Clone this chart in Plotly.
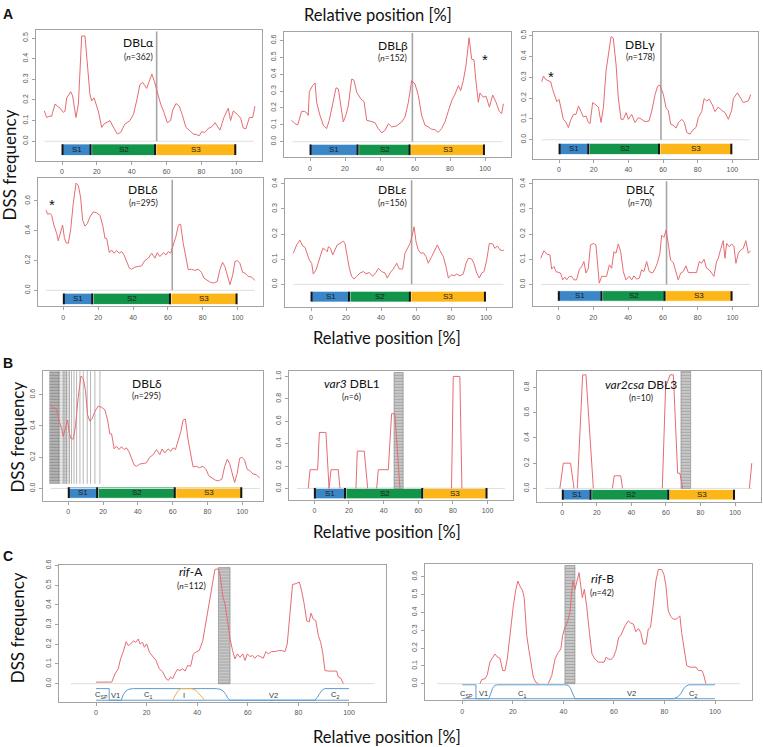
import plotly.graph_objects as go

W, H = 763, 747

# ---------------------------------------------------------------- data
x_ticks = [0, 20, 40, 60, 80, 100]

dbl_alpha = [(-10.1,0.147),(-8.8,0.115),(-6.9,0.123),(-6,0.12),(-4,0.18),(-1.1,0.16),(0.8,0.14),(1.7,0.145),
    (2.7,0.21),(5,0.24),(6.1,0.22),(8,0.115),(9.4,0.18),(11.3,0.51),(13.2,0.51),(14.5,0.37),(16,0.23),
    (17,0.195),(18.4,0.21),(20.8,0.147),(22.8,0.067),(24,0.083),(25.6,0.09),(27.5,0.1),(29.4,0.07),
    (31.7,0.035),(33.7,0.043),(36,0.083),(39,0.1),(41,0.13),(42.8,0.195),(44.7,0.275),(46.3,0.285),
    (48.6,0.256),(50,0.29),(51.6,0.325),(53,0.29),(54.7,0.24),(56.6,0.18),(58.5,0.14),(60.4,0.09),
    (62.3,0.1),(63.5,0.15),(65.4,0.183),(67.3,0.17),(69.2,0.123),(71.1,0.067),(73.4,0.051),(75.3,0.035),
    (77.2,0.032),(78.8,0.027),(80.1,0.046),(82,0.043),(83.9,0.062),(85.9,0.07),(87.8,0.09),(89.1,0.075),
    (90.6,0.054),(92.9,0.115),(95.4,0.16),(96.7,0.1),(98.3,0.147),(100.6,0.13),(102.5,0.112),(104,0.064),
    (105.5,0.06),(107.5,0.115),(109.4,0.115),(110.7,0.17)]

dbl_beta = [(-10.5,0.127),(-8.6,0.107),(-7,0.1),(-4.8,0.18),(-3.2,0.18),(-1.9,0.172),(-1,0.156),(-0.4,0.297),
    (1.5,0.332),(2.9,0.348),(3.8,0.234),(5.7,0.156),(7.6,0.098),(9.5,0.078),(11,0.127),(13,0.234),(14.9,0.32),
    (16.2,0.313),(17.5,0.234),(19,0.117),(20.6,0.16),(21.9,0.215),(23.8,0.371),(25.1,0.365),(26.7,0.293),
    (29,0.254),(30.9,0.238),(32.4,0.127),(34.7,0.121),(37.1,0.113),(39,0.078),(41,0.053),(42.9,0.068),
    (44.8,0.107),(46.7,0.088),(49.5,0.094),(52.4,0.117),(54.3,0.147),(56.2,0.234),(58.1,0.362),(60,0.342),
    (61.9,0.274),(63.8,0.156),(65.7,0.098),(67.6,0.088),(69.5,0.074),(71.4,0.072),(73.3,0.055),(75.2,0.078),
    (77.1,0.117),(79,0.18),(81,0.244),(82.9,0.283),(84.8,0.332),(86.1,0.303),(87.6,0.362),(89.1,0.45),
    (90.9,0.616),(92.4,0.489),(93.7,0.485),(94.9,0.352),(96.2,0.234),(97.1,0.289),(99,0.264),(100.6,0.27),
    (102.5,0.205),(104.4,0.277),(106.3,0.234),(108.2,0.18),(109.5,0.166),(110.5,0.225)]

dbl_gamma = [(-10,0.278),(-9,0.305),(-7.7,0.289),(-6.2,0.284),(-4.8,0.278),(-3.7,0.241),(-2.3,0.2),(-1.3,0.183),
    (0,0.194),(1.2,0.141),(2.5,0.098),(3.8,0.087),(5.4,0.059),(6.7,0.094),(8.3,0.122),(9.8,0.122),(11.2,0.162),
    (12.7,0.135),(14,0.11),(15.6,0.114),(16.9,0.083),(17.9,0.078),(19.4,0.178),(20.8,0.17),(22.7,0.157),
    (24.2,0.083),(25.6,0.154),(27.1,0.329),(28.5,0.408),(30,0.495),(31.3,0.487),(32.9,0.36),(34.2,0.2),
    (35.8,0.098),(37.1,0.098),(38.7,0.13),(40,0.098),(41.9,0.122),(43.8,0.083),(45.8,0.106),(47.7,0.098),
    (49.6,0.087),(51.9,0.09),(53.5,0.138),(55.4,0.217),(56.9,0.257),(58.3,0.262),(60.2,0.217),(61.7,0.154),
    (63.1,0.138),(64.4,0.075),(66,0.07),(67.5,0.056),(69,0.083),(70.8,0.098),(72.3,0.083),(73.7,0.035),
    (75.6,0.027),(77.1,0.046),(79,0.059),(80.4,0.106),(82.3,0.135),(83.7,0.197),(85.2,0.186),(86.7,0.194),
    (88.3,0.17),(90,0.135),(91.9,0.157),(93.8,0.141),(95.8,0.13),(97.7,0.098),(99.6,0.141),(100.6,0.198),
    (102.9,0.225),(104.4,0.205),(106.3,0.178),(107.9,0.183),(109.2,0.186),(110.6,0.217)]

dbl_delta = [(-9.9,0.538),(-9,0.511),(-7.6,0.516),(-6.7,0.504),(-5.4,0.438),(-3.8,0.382),(-2.9,0.333),
    (-1.5,0.404),(-0.4,0.438),(0.6,0.356),(1.5,0.32),(2.9,0.316),(4.2,0.404),(5.7,0.582),(7.3,0.72),
    (8.6,0.704),(9.9,0.627),(11.1,0.471),(12.4,0.431),(13.8,0.449),(15.3,0.493),(17.2,0.527),(19.1,0.52),
    (21,0.504),(22.6,0.438),(23.9,0.349),(24.9,0.349),(26.4,0.253),(27.7,0.271),(29.1,0.249),(30.6,0.267),
    (32.1,0.249),(33.5,0.26),(34.8,0.238),(36.3,0.193),(37.9,0.149),(39.2,0.142),(41.1,0.156),(43,0.16),
    (44.9,0.164),(46.8,0.2),(48.8,0.216),(50.7,0.249),(52.6,0.216),(53.9,0.253),(55.4,0.227),(57.4,0.253),
    (58.9,0.238),(60.2,0.26),(61.6,0.249),(63.1,0.304),(64.6,0.36),(66,0.438),(67.3,0.444),(68.8,0.316),
    (70.4,0.204),(71.7,0.138),(73.6,0.142),(75.5,0.133),(77.4,0.142),(79.3,0.12),(80.7,0.082),(82.6,0.067),
    (84.5,0.053),(86.4,0.049),(88.3,0.06),(89.9,0.142),(91.4,0.187),(92.7,0.16),(94.1,0.093),(95.6,0.038),
    (97.1,0.098),(98.5,0.193),(99.8,0.2),(101.3,0.182),(102.9,0.12),(104.2,0.116),(106.1,0.093),(108,0.089),
    (109.9,0.067)]

dbl_epsilon = [(-10.1,0.124),(-8.2,0.157),(-6.3,0.176),(-4.8,0.153),(-3.4,0.147),(-2.1,0.121),(-1,0.097),
    (0.4,0.084),(1.3,0.041),(2.9,0.058),(4.2,0.084),(5.5,0.111),(6.7,0.143),(8,0.139),(9.3,0.13),(9.9,0.15),
    (11.2,0.143),(12.4,0.117),(13.7,0.139),(15,0.157),(16.6,0.163),(18.5,0.172),(19.4,0.163),(20.4,0.117),
    (21.9,0.064),(23.2,0.032),(24.6,0.021),(26.1,0.032),(28,0.045),(29.9,0.051),(31.4,0.042),(33.3,0.047),
    (35.2,0.032),(37.1,0.047),(38.5,0.064),(40.4,0.051),(42.3,0.045),(43.6,0.025),(45.1,0.045),(47,0.061),
    (49,0.084),(50.5,0.061),(52.4,0.061),(53.7,0.124),(55,0.143),(56.6,0.163),(57.9,0.196),(58.9,0.229),
    (60,0.17),(61.3,0.137),(62.7,0.124),(64.2,0.126),(65.7,0.111),(67,0.084),(69,0.111),(70.9,0.137),
    (72.2,0.157),(73.7,0.134),(75.6,0.111),(77.1,0.071),(78.5,0.025),(80.4,0.038),(81.7,0.034),(83.2,0.041),
    (85.1,0.034),(87,0.041),(88.6,0.084),(89.9,0.104),(91.8,0.101),(93.1,0.084),(94.7,0.045),(96.2,0.025),
    (97.5,0.045),(98.9,0.051),(100.4,0.097),(101.9,0.163),(103.8,0.161),(105.1,0.143),(106.5,0.153),
    (108,0.137),(109.5,0.134),(110.3,0.137)]

dbl_zeta = [(-10.1,0.104),(-8.2,0.134),(-6.7,0.121),(-4.8,0.117),(-3.8,0.061),(-2.5,0.071),(-1.3,0.051),
    (0,0.047),(1.3,0.045),(2.5,0.018),(3.8,0.029),(4.8,0.018),(6.3,0.032),(7.6,0.032),(9,0.018),(10.5,0.018),
    (12,0.058),(13.4,0.071),(14.7,0.091),(15.9,0.045),(17.2,0.064),(18.5,0.157),(20.1,0.163),(21.6,0.157),
    (22.6,0.084),(23.5,0.005),(24.9,0.032),(26.2,0.032),(27.7,0.032),(29.3,0.078),(30.6,0.064),(31.9,0.13),
    (33.1,0.124),(34.4,0.161),(35.8,0.13),(37.3,0.051),(38.8,0.018),(40.7,0.032),(42.1,0.018),(43.4,0.034),
    (44.9,0.021),(46.5,0.025),(47.8,0.058),(49.1,0.051),(50.7,0.091),(52.2,0.051),(54.1,0.045),(55.4,0.061),
    (56.8,0.084),(58.3,0.124),(59.3,0.196),(60.6,0.187),(61.8,0.216),(63.1,0.163),(64.4,0.097),(66,0.087),
    (67.5,0.051),(68.8,0.018),(70.2,0.045),(71.7,0.051),(73.2,0.074),(74.6,0.047),(77.1,0.047),(79.3,0.047),
    (80.9,0.091),(82.2,0.084),(83.6,0.1),(85.1,0.064),(86.6,0.058),(88,0.045),(89.3,0.032),(90.8,0.091),
    (91.8,0.104),(93.1,0.139),(94.6,0.174),(95.6,0.104),(96.6,0.163),(98.1,0.15),(99.4,0.161),(100.8,0.15),
    (101.9,0.084),(103.3,0.124),(104.6,0.137),(106.1,0.143),(107.6,0.174),(109,0.124),(110.3,0.134)]

var3_dbl1 = [(-3.5,0),(-2.5,0.167),(1.9,0.167),(2.9,0.5),(6.7,0.5),(8.5,0),(9.6,0.167),(13.8,0.167),(14.8,0),
    None,(24,0),(24.8,0.333),(28.8,0.333),(30.8,0),
    None,(36,0),(36.9,0.167),(42.7,0.167),(44.6,0.667),(46.5,0.667),(49.4,0),
    None,(79.2,0),(80.2,1.0),(84,1.0),(85.2,0)]

var2csa_dbl3 = [(-1.4,0),(0.6,0.2),(4.8,0.2),(6.8,0),
    None,(8.7,0),(10.2,0.4),(11.8,0.9),(13.7,0.9),(15.6,0.5),(18,0),
    None,(29,0),(30.1,0.1),(33.8,0.1),(34.9,0),
    None,(57.9,0),(59.8,0.8),(62.4,0.9),(64.3,0.9),(66.8,0.12),(68.1,0.12),(69.7,0),
    None,(108.3,0),(109.7,0.2)]

rif_a = [(0,0.008),(6.2,0.008),(7.5,0.05),(8.8,0.076),(9.7,0.126),(10.8,0.163),(11.9,0.213),(12.8,0.193),
    (13.7,0.202),(14.8,0.218),(15.7,0.21),(16.7,0.227),(17.4,0.202),(18.4,0.21),(19.1,0.185),(20,0.202),
    (21.1,0.16),(22.4,0.139),(23.7,0.118),(25,0.076),(26.4,0.059),(27.7,0.025),(28.6,0.017),(29.5,0.034),
    (30.3,0.025),(31.2,0.05),(32.1,0.072),(33.2,0.067),(34.3,0.076),(35.2,0.064),(36.2,0.092),(37.4,0.089),
    (38.5,0.151),(39.8,0.163),(40.8,0.168),(42.2,0.218),(43.5,0.319),(44.8,0.429),(46.1,0.529),(47,0.58),
    (48.4,0.583),(49,0.555),(50.1,0.445),(51,0.403),(51.9,0.328),(53,0.227),(54,0.168),(54.9,0.126),
    (55.9,0.151),(56.9,0.134),(58,0.151),(58.9,0.118),(59.8,0.151),(60.9,0.138),(61.9,0.143),(62.8,0.129),
    (63.8,0.143),(64.8,0.139),(66.1,0.129),(67.2,0.163),(68.1,0.151),(69.4,0.163),(70.8,0.163),(72.1,0.168),
    (73.4,0.168),(74.7,0.163),(75.6,0.202),(76.7,0.378),(77.7,0.504),(79.1,0.508),(80.4,0.516),(81.3,0.471),
    (82.2,0.412),(83.3,0.319),(84.3,0.314),(85,0.358),(85.9,0.328),(86.9,0.319),(87.9,0.244),(88.8,0.21),
    (89.6,0.16),(90.5,0.067),(91.8,0.064),(93.5,0.064),(95.1,0.064),(95.8,0.034),(96.7,0.029),(97.8,0)]

rif_b = [(7,0),(7.7,0.024),(9,0.028),(9.9,0.05),(10.9,0.121),(12,0.149),(12.9,0.167),(13.9,0.149),
    (14.9,0.143),(16,0.074),(16.9,0.074),(17.8,0.139),(18.9,0.288),(20.2,0.437),(21.2,0.53),(22,0.576),
    (22.8,0.548),(23.9,0.52),(24.5,0.483),(25.5,0.27),(26.4,0.186),(27.2,0.102),(28.1,0.037),(29,0.009),
    (30.1,0),None,(34,0),(35.4,0.046),(36.7,0.139),(38,0.177),(39,0.195),(39.7,0.27),(40.6,0.316),
    (41.6,0.344),(42.6,0.4),(43.7,0.576),(44.6,0.53),(45.3,0.576),(46.2,0.623),(46.8,0.558),(47.5,0.483),
    (48.3,0.53),(49.2,0.437),(50.3,0.288),(51.3,0.167),(52.5,0.139),(53.8,0.121),(55.1,0.121),(56.1,0.121),
    (56.9,0.149),(57.8,0.139),(58.8,0.136),(59.8,0.149),(60.8,0.186),(61.9,0.26),(62.7,0.27),(63.5,0.297),
    (64.4,0.325),(65.7,0.353),(66.6,0.34),(67.7,0.335),(68.7,0.292),(69.7,0.31),(70.6,0.288),(71.6,0.223),
    (72.7,0.223),(73.6,0.307),(74.5,0.316),(75.6,0.446),(76.6,0.576),(77.6,0.641),(78.9,0.641),(79.8,0.613),
    (80.6,0.548),(81.5,0.409),(82.5,0.377),(83.5,0.362),(84.6,0.362),(85.5,0.372),(86.1,0.381),(86.8,0.288),
    (87.7,0.204),(88.8,0.102),(90.1,0.093),(91.7,0.093),(92.5,0.093),(93.4,0.074),(94.7,0.074),(95.4,0.056),
    (96.4,0)]

# subdomain boundaries S1 | S2 | S3
alpha_seg = [0, 17, 54, 100]
beta_seg = [0, 27.8, 57.5, 100]
gamma_seg = [0, 17.5, 58.3, 100]
delta_seg = [0, 17.2, 61.8, 100]
epsilon_seg = [0, 22.3, 57.1, 100]
zeta_seg = [0, 25.4, 61.6, 100]
var3_seg = [0, 18.3, 62.9, 100]
var2csa_seg = [0, 17, 62, 100]
seg_labels = ['S1', 'S2', 'S3']

# DSS positions (bands / single lines)
delta_dss_dense = (-10.9, -5.2)
delta_dss_light = (-5.2, 1.0)
delta_dss_lines = [-5.2, -2.9, -1.9, -1.0, 0.6, 1.9, 3.3, 4.8, 6.7, 8.6, 10.9, 12.8, 15.3, 18.2]
var3_dss = (46.0, 51.3)
var2csa_dss = (68.7, 74.3)
rif_a_dss = (48.4, 53.0)
rif_b_dss = (40.6, 44.6)

# RIFIN domain schematic (x, level 0=bottom 1=top)
rif_a_sp = [(0, 1), (5.2, 1), (5.2, 0)]
rif_a_profile = [(5.3,0),(10,0),(10.7,0.45),(11.8,0.8),(13,0.95),(14.8,1),(47.5,1),(49,0.95),(50.2,0.8),
    (51.3,0.5),(52,0.2),(53,0),(86.5,0),(87.5,0.25),(88.5,0.6),(89.5,0.9),(90.5,1),(100,1)]
rif_a_I = [(30.3,0),(31.3,0.4),(32.3,0.8),(33.5,1),(37.8,1),(39.5,0.85),(41,0.5),(42,0.2),(43,0)]
rif_a_regions = [('C<sub>SP</sub>', 2.2), ('V1', 7.5), ('C<sub>1</sub>', 20.7), ('I', 34.9), ('V2', 70.1), ('C<sub>2</sub>', 94.5)]
rif_b_sp = [(0, 1), (5.4, 1), (5.4, 0)]
rif_b_profile = [(5.4,0),(10.5,0),(11.2,0.35),(12,0.75),(12.8,0.95),(14,1),(41,1),(42,0.95),(42.8,0.75),
    (43.6,0.35),(44.6,0),(83.5,0),(85,0.1),(86.5,0.35),(87.5,0.7),(88.5,0.9),(89.7,1),(100,1)]
rif_b_regions = [('C<sub>SP</sub>', 1.5), ('V1', 8.3), ('C<sub>1</sub>', 23.5), ('V2', 67), ('C<sub>2</sub>', 91.4)]

# ---------------------------------------------------------------- style
RED = 'rgb(230,108,114)'
SEG_COLORS = ['#3b86c6', '#13944b', '#fdb617']
BOX = '#a3a3a3'
TICKFONT = dict(family='Liberation Sans, Arial', size=7, color='#555')
LABELFONT = 'Lato, Open Sans, sans-serif'
BLUE = '#5d9dd2'
ORANGE = '#f2b244'

panels = [
    dict(data=dbl_alpha, seg=alpha_seg, border=54.3, title='DBLα', n='(<i>n</i>=362)',
         box=(36.2, 262.1, 25.0, 156.7), yr=(-0.094, 0.540), yt=[0, 0.1, 0.2, 0.3, 0.4, 0.5],
         bar=(-0.041, 0.056), tpos=(44, 0.48, 0.41)),
    dict(data=dbl_beta, seg=beta_seg, border=58.5, title='DBLβ', n='(<i>n</i>=152)',
         box=(284.1, 510.9, 26.7, 153.3), yr=(-0.092, 0.653), yt=[0, 0.1, 0.2, 0.3, 0.4, 0.5, 0.6],
         bar=(-0.048, 0.066), tpos=(47.4, 0.571, 0.494), star=(100.2, 0.508)),
    dict(data=dbl_gamma, seg=gamma_seg, border=58.8, title='DBLγ', n='(<i>n</i>=178)',
         box=(533.4, 758.0, 26.7, 155.0), yr=(-0.092, 0.519), yt=[0, 0.1, 0.2, 0.3, 0.4, 0.5],
         bar=(-0.044, 0.054), tpos=(46.9, 0.459, 0.395), star=(-4.8, 0.32)),
    dict(data=dbl_delta, seg=delta_seg, border=62.5, title='DBLδ', n='(<i>n</i>=295)',
         box=(37.5, 263.4, 174.3, 303.3), yr=(-0.107, 0.753), yt=[0, 0.2, 0.4, 0.6],
         bar=(-0.057, 0.076), tpos=(45.9, 0.678, 0.587), star=(-6.3, 0.593)),
    dict(data=dbl_epsilon, seg=epsilon_seg, border=57.5, title='DBLε', n='(<i>n</i>=156)',
         box=(285.1, 511.9, 175.0, 304.0), yr=(-0.090, 0.420), yt=[0, 0.1, 0.2, 0.3, 0.4],
         bar=(-0.049, 0.043), tpos=(46.7, 0.378, 0.325)),
    dict(data=dbl_zeta, seg=zeta_seg, border=62.1, title='DBLζ', n='(<i>n</i>=70)',
         box=(532.5, 758.4, 176.0, 303.3), yr=(-0.087, 0.416), yt=[0, 0.1, 0.2, 0.3, 0.4],
         bar=(-0.046, 0.042), tpos=(47, 0.378, 0.325)),
    dict(data=dbl_delta, seg=delta_seg, title='DBLδ', n='(<i>n</i>=295)',
         box=(42.5, 263.0, 368.3, 499.3), xr=(-14.8, 111.9), yr=(-0.080, 0.753), yt=[0, 0.2, 0.4, 0.6],
         bar=(-0.027, 0.072), tpos=(45, 0.67, 0.591), dss='delta'),
    dict(data=var3_dbl1, seg=var3_seg, title='<i>var3</i> DBL1', n='(<i>n</i>=6)',
         box=(288.7, 513.2, 368.3, 498.3), yr=(-0.103, 1.05), yt=[0, 0.2, 0.4, 0.6, 0.8, 1.0],
         bar=(-0.044, 0.098), tpos=(21.5, 0.938, 0.82), dss=var3_dss, dss_top=1.035),
    dict(data=var2csa_dbl3, seg=var2csa_seg, title='<i>var2csa</i> DBL3', n='(n=10)',
         box=(536.7, 760.6, 368.3, 500.0), yr=(-0.105, 0.932), yt=[0, 0.2, 0.4, 0.6, 0.8],
         bar=(-0.05, 0.082), tpos=(45.6, 0.82, 0.714), dss=var2csa_dss, dss_top=0.932),
    dict(data=rif_a, title='<i>rif</i>-A', n='(<i>n</i>=112)',
         box=(58.6, 386.4, 563.3, 701.7), yr=(-0.093, 0.605), yt=[0, 0.1, 0.2, 0.3, 0.4, 0.5, 0.6],
         tpos=(37.7, 0.571, 0.496), dss=rif_a_dss, dss_top=0.59,
         schem=dict(sp=rif_a_sp, prof=rif_a_profile, I=rif_a_I, reg=rif_a_regions, T=-0.025, B=-0.084, ly=-0.059)),
    dict(data=rif_b, title='<i>rif</i>-B', n='(<i>n</i>=42)',
         box=(424.9, 752.4, 562.7, 700.0), yr=(-0.093, 0.672), yt=[0, 0.1, 0.2, 0.3, 0.4, 0.5, 0.6],
         tpos=(55.3, 0.589, 0.511), dss=rif_b_dss, dss_top=0.663,
         schem=dict(sp=rif_b_sp, prof=rif_b_profile, I=None, reg=rif_b_regions, T=-0.006, B=-0.084, ly=-0.056)),
]


def unzip(pairs):
    xs = [p[0] if p is not None else None for p in pairs]
    ys = [p[1] if p is not None else None for p in pairs]
    return xs, ys


fig = go.Figure()
layout = dict(width=W, height=H, margin=dict(l=0, r=0, t=0, b=0),
              paper_bgcolor='white', plot_bgcolor='white', showlegend=False,
              barmode='overlay')
annotations = []

for i, p in enumerate(panels):
    s = '' if i == 0 else str(i + 1)
    xa, ya = 'x' + s, 'y' + s
    l, r, t, b = p['box']
    xr = p.get('xr', (-14.8, 114.8))
    y0, y1 = p['yr']
    layout['xaxis' + s] = dict(domain=[l / W, r / W], range=list(xr), anchor=ya,
                               tickvals=x_ticks, showgrid=False, zeroline=False,
                               showline=True, mirror=True, linecolor=BOX, linewidth=1,
                               ticks='outside', ticklen=3, tickcolor=BOX, tickfont=TICKFONT,
                               ticklabelstandoff=1)
    layout['yaxis' + s] = dict(domain=[1 - b / H, 1 - t / H], range=[y0, y1], anchor=xa,
                               tickvals=p['yt'], tickformat='.1f', tickangle=-90,
                               showgrid=False, zeroline=False,
                               showline=True, mirror=True, linecolor=BOX, linewidth=1,
                               ticks='outside', ticklen=3, tickcolor=BOX, tickfont=TICKFONT,
                               ticklabelstandoff=1)

    # baseline
    fig.add_trace(go.Scatter(x=[-10, 110], y=[0, 0], mode='lines', xaxis=xa, yaxis=ya,
                             line=dict(color='#dedede', width=1), hoverinfo='skip'))

    # DSS bands
    dss = p.get('dss')
    if dss == 'delta':
        top = y1 - 0.002
        for (a, c), fg, bg in [(delta_dss_dense, 'rgba(95,95,95,0.85)', 'rgba(160,160,160,0.8)'),
                               (delta_dss_light, 'rgba(160,160,160,0.5)', 'rgba(210,210,210,0.55)')]:
            fig.add_trace(go.Scatter(x=[a, c, c, a, a], y=[0.03, 0.03, top, top, 0.03], mode='lines',
                                     xaxis=xa, yaxis=ya, line=dict(width=0), fill='toself',
                                     fillcolor=bg,
                                     fillpattern=dict(shape='-', fgcolor=fg, bgcolor=bg, size=3, solidity=0.35),
                                     hoverinfo='skip'))
        lx, ly = [], []
        for v in delta_dss_lines:
            lx += [v, v, None]
            ly += [0.03, top, None]
        fig.add_trace(go.Scatter(x=lx, y=ly, mode='lines', xaxis=xa, yaxis=ya,
                                 line=dict(color='rgba(80,80,80,0.6)', width=0.7), hoverinfo='skip'))
    elif dss is not None:
        a, c = dss
        top = p['dss_top']
        fig.add_trace(go.Scatter(x=[a, c, c, a, a], y=[0, 0, top, top, 0], mode='lines',
                                 xaxis=xa, yaxis=ya, line=dict(width=0.6, color='rgba(110,110,110,0.8)'),
                                 fill='toself', fillcolor='rgba(175,175,175,0.85)',
                                 fillpattern=dict(shape='-', fgcolor='rgba(120,120,120,0.85)',
                                                  bgcolor='rgba(190,190,190,0.85)', size=3, solidity=0.35),
                                 hoverinfo='skip'))

    # subdomain boundary
    if 'border' in p:
        fig.add_trace(go.Scatter(x=[p['border'], p['border']], y=[0, y1 - 0.012 * (y1 - y0)],
                                 mode='lines', xaxis=xa, yaxis=ya,
                                 line=dict(color='#a6a6a6', width=1.6), hoverinfo='skip'))

    # DSS frequency curve
    xs, ys = unzip(p['data'])
    fig.add_trace(go.Scatter(x=xs, y=ys, mode='lines', xaxis=xa, yaxis=ya, connectgaps=False,
                             line=dict(color=RED, width=1), hoverinfo='skip'))

    # S1/S2/S3 bars
    if 'seg' in p:
        seg = p['seg']
        cy, th = p['bar']
        starts = seg[:-1]
        lens = [seg[k + 1] - seg[k] for k in range(3)]
        fig.add_trace(go.Bar(orientation='h', y=[cy] * 3, x=lens, base=starts, width=[th] * 3,
                             xaxis=xa, yaxis=ya,
                             marker=dict(color=SEG_COLORS, line=dict(color='white', width=0.8)),
                             hoverinfo='skip'))
        for k in range(3):
            annotations.append(dict(x=(seg[k] + seg[k + 1]) / 2, y=cy, xref=xa, yref=ya,
                                    text=seg_labels[k], showarrow=False,
                                    font=dict(family='Liberation Sans, Arial', size=8, color='#1c1c1c')))
        cx, cyy = [], []
        for v in [seg[0] + 0.3] + [e - 0.6 for e in seg[1:]]:
            cx += [v, v, None]
            cyy += [cy - th / 2 + 0.002, cy + th / 2 - 0.002, None]
        fig.add_trace(go.Scatter(x=cx, y=cyy, mode='lines', xaxis=xa, yaxis=ya,
                                 line=dict(color='#161616', width=2), hoverinfo='skip'))

    # RIFIN schematic
    sc = p.get('schem')
    if sc:
        T, B = sc['T'], sc['B']
        fig.add_trace(go.Scatter(x=[0, 100], y=[B, B], mode='lines', xaxis=xa, yaxis=ya,
                                 line=dict(color=BLUE, width=1), hoverinfo='skip'))
        for path, col in [(sc['sp'], BLUE), (sc['prof'], BLUE), (sc['I'], ORANGE)]:
            if path is None:
                continue
            px_, lv = unzip(path)
            fig.add_trace(go.Scatter(x=px_, y=[B + v * (T - B) for v in lv], mode='lines',
                                     xaxis=xa, yaxis=ya, line=dict(color=col, width=1),
                                     hoverinfo='skip'))
        for name, xv in sc['reg']:
            annotations.append(dict(x=xv, y=sc['ly'], xref=xa, yref=ya, text=name, showarrow=False,
                                    font=dict(family='Liberation Sans, Arial', size=7.5, color='#333')))

    # titles
    tx, ty, ny = p['tpos']
    annotations.append(dict(x=tx, y=ty, xref=xa, yref=ya, text=p['title'], showarrow=False,
                            font=dict(family=LABELFONT, size=12, color='#111')))
    annotations.append(dict(x=tx, y=ny, xref=xa, yref=ya, text=p['n'], showarrow=False,
                            font=dict(family=LABELFONT, size=8.5, color='#222')))
    if 'star' in p:
        annotations.append(dict(x=p['star'][0], y=p['star'][1], xref=xa, yref=ya, text='*',
                                showarrow=False, yshift=-3,
                                font=dict(family='Liberation Sans, Arial', size=15, color='#111')))


# global labels
def pxx(v):
    return v / W


def pxy(v):
    return 1 - v / H


def paper_text(x, y, text, font, angle=0):
    annotations.append(dict(x=pxx(x), y=pxy(y), xref='paper', yref='paper', text=text,
                            xanchor='center', yanchor='middle', textangle=angle,
                            showarrow=False, font=font))


for letter, (lx, ly) in [('A', (8, 9)), ('B', (8, 360)), ('C', (8, 555))]:
    paper_text(lx, ly, '<b>%s</b>' % letter, dict(family='Liberation Sans, Arial', size=14, color='#111'))

for cx, cy in [(377.5, 10), (387, 335), (387, 531), (387, 737)]:
    paper_text(cx, cy, 'Relative position [%]', dict(family=LABELFONT, size=16.5, color='#111'))

for cx, cy in [(9.5, 161), (17.5, 435), (17.5, 627)]:
    paper_text(cx, cy, 'DSS frequency', dict(family=LABELFONT, size=17, color='#111'), angle=-90)

layout['annotations'] = annotations
fig.update_layout(**layout)
fig.write_html('out.html', config={'displayModeBar': False},
               post_script="document.body.style.margin='0px';document.body.style.padding='0px';"
                           "document.body.style.overflow='hidden';")
